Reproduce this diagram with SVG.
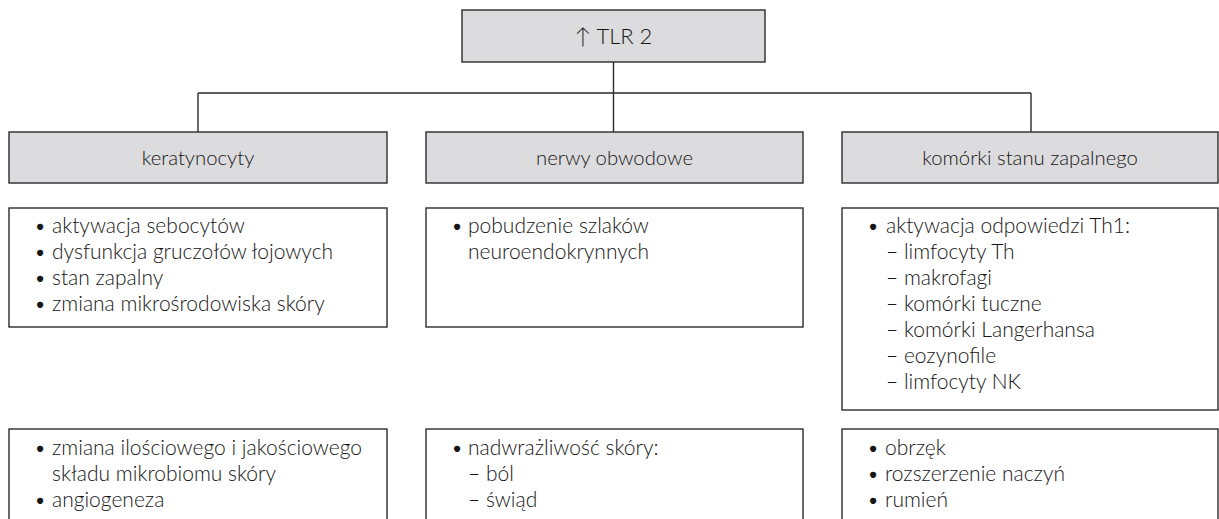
<svg xmlns="http://www.w3.org/2000/svg" width="1219" height="519" viewBox="0 0 1219 519">
<style>
.hdr{fill:#dcdcde;stroke:#2b2b2b;stroke-width:1.4}
.box{fill:#ffffff;stroke:#2b2b2b;stroke-width:1.4}
.conn{fill:none;stroke:#2b2b2b;stroke-width:1.4}
text{font-family:Lato,"Liberation Sans",sans-serif;font-weight:300;fill:#161616;font-size:21px}
.c{text-anchor:middle;font-size:20.3px}
.top{font-size:22px}
</style>
<rect width="1219" height="519" fill="#ffffff"/>
<g id="connectors">
<path class="conn" d="M613.5 62 V93 M198 93 H1031 M198 93 V132 M613.5 93 V132 M1031 93 V132"/>
</g>
<g id="tlr2">
<rect class="hdr" x="462" y="10" width="303" height="52"/>
<text class="c top" x="613.5" y="44">↑ TLR 2</text>
</g>
<g id="keratynocyty">
<rect class="hdr" x="9" y="132" width="378" height="51"/>
<text class="c" x="198" y="165">keratynocyty</text>
</g>
<g id="nerwy">
<rect class="hdr" x="426" y="132" width="377" height="51"/>
<text class="c" x="614.5" y="165">nerwy obwodowe</text>
</g>
<g id="komorki">
<rect class="hdr" x="842" y="132" width="376" height="51"/>
<text class="c" x="1030" y="165">komórki stanu zapalnego</text>
</g>
<g id="ker-list1">
<rect class="box" x="9" y="208" width="378" height="119"/>
<text x="34" y="233">•</text><text x="52" y="233">aktywacja sebocytów</text>
<text x="34" y="259">•</text><text x="52" y="259">dysfunkcja gruczołów łojowych</text>
<text x="34" y="285">•</text><text x="52" y="285">stan zapalny</text>
<text x="34" y="311">•</text><text x="52" y="311">zmiana mikrośrodowiska skóry</text>
</g>
<g id="nerwy-list1">
<rect class="box" x="426" y="208" width="377" height="119"/>
<text x="451" y="233">•</text><text x="468" y="233">pobudzenie szlaków</text>
<text x="468" y="259">neuroendokrynnych</text>
</g>
<g id="kom-list1">
<rect class="box" x="842" y="208" width="376" height="202"/>
<text x="867" y="233">•</text><text x="886" y="233">aktywacja odpowiedzi Th1:</text>
<text x="886" y="259">– limfocyty Th</text>
<text x="886" y="285">– makrofagi</text>
<text x="886" y="311">– komórki tuczne</text>
<text x="886" y="337">– komórki Langerhansa</text>
<text x="886" y="363">– eozynofile</text>
<text x="886" y="389">– limfocyty NK</text>
</g>
<g id="ker-list2">
<rect class="box" x="9" y="429" width="378" height="110"/>
<text x="34" y="455">•</text><text x="52" y="455">zmiana ilościowego i jakościowego</text>
<text x="52" y="481">składu mikrobiomu skóry</text>
<text x="34" y="507">•</text><text x="52" y="507">angiogeneza</text>
</g>
<g id="nerwy-list2">
<rect class="box" x="426" y="429" width="377" height="110"/>
<text x="451" y="455">•</text><text x="468" y="455">nadwrażliwość skóry:</text>
<text x="468" y="481">– ból</text>
<text x="468" y="507">– świąd</text>
</g>
<g id="kom-list2">
<rect class="box" x="842" y="429" width="376" height="110"/>
<text x="867" y="455">•</text><text x="885" y="455">obrzęk</text>
<text x="867" y="481">•</text><text x="885" y="481">rozszerzenie naczyń</text>
<text x="867" y="507">•</text><text x="885" y="507">rumień</text>
</g>
</svg>
